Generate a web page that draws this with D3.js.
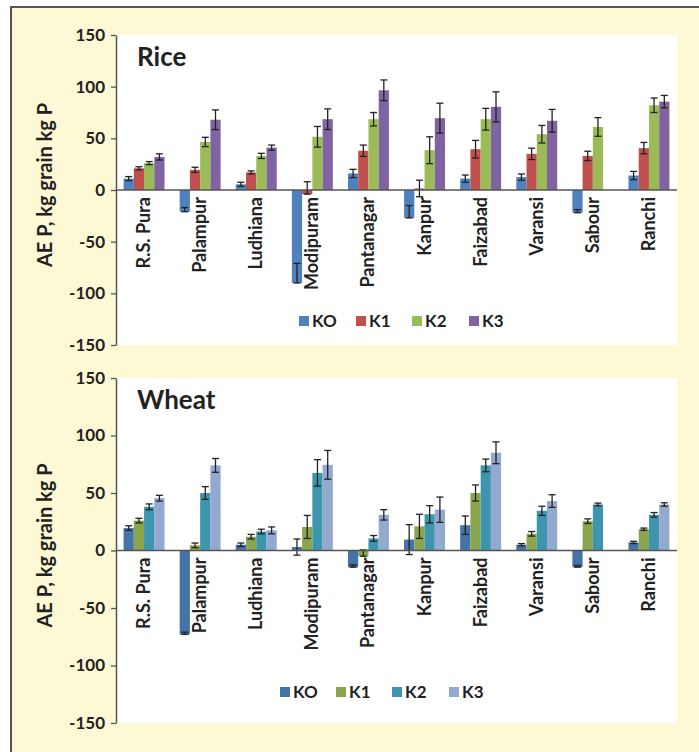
<!DOCTYPE html>
<html>
<head>
<meta charset="utf-8">
<script src="https://cdnjs.cloudflare.com/ajax/libs/d3/7.8.5/d3.min.js"></script>
<style>
  body { margin: 0; background: #fff; }
  svg { display: block; font-family: Lato, "DejaVu Sans", sans-serif; font-weight: bold; }
</style>
</head>
<body>
<div id="chart"></div>
<script>
// categories and series
const sites = ["R.S. Pura", "Palampur", "Ludhiana", "Modipuram", "Pantanagar", "Kanpur", "Faizabad", "Varansi", "Sabour", "Ranchi"];
const series = ["KO", "K1", "K2", "K3"];
const yTicks = [-150, -100, -50, 0, 50, 100, 150];

// Rice
const riceKO = [11, -21, 5.5, -90, 16, -27, 11, 12.5, -22, 14];
const riceK1 = [21, 19.5, 17, -4, 38, 1.5, 39.5, 35, 33, 40.5];
const riceK2 = [26, 46.5, 33, 51.5, 68.5, 38.5, 68.5, 54, 61, 82];
const riceK3 = [32, 68, 41, 68.5, 96.5, 69.5, 80.5, 67, null, 85.5];
const riceKOerr = [2, 4, 2, 19, 4, 12, 3.5, 3, 3, 4];
const riceK1err = [1.5, 2.5, 1.5, 12, 5.5, 8, 8.5, 5.5, 4.5, 5.5];
const riceK2err = [1.5, 4.5, 2.5, 10, 6.5, 13, 10.5, 8.5, 9, 7];
const riceK3err = [3, 9.5, 2.5, 10, 10, 14.5, 14.5, 11, null, 6];

// Wheat
const wheatKO = [19.5, -73, 5, 3, -14.5, 9.5, 22, 5, -14.5, 7];
const wheatK1 = [26, 4.5, 12, 20.5, -5, 21, 50, 14.5, 25.5, 18.5];
const wheatK2 = [38, 50, 16.5, 67.5, 10.5, 31.5, 74, 34.5, 40, 31];
const wheatK3 = [45.5, 74, 17.5, 74.5, 31, 35.5, 85, 43, null, 40];
const wheatKOerr = [2, 2, 1.5, 7, 2, 13, 8, 1, 1.5, 1];
const wheatK1err = [2, 2, 2, 10, 5.5, 10.5, 7, 2, 2, 1];
const wheatK2err = [2.5, 5.5, 2, 11.5, 2.5, 7.5, 5.5, 4, 1.2, 2];
const wheatK3err = [2.5, 6, 3, 12.5, 4.5, 11, 9.5, 5.5, null, 1.5];

const riceColors = ["#4F81BD", "#C0504D", "#9BBB59", "#8064A2"];
const wheatColors = ["#4572A7", "#89A54E", "#3D96AE", "#93A9CF"];

const width = 699, height = 752;
const svg = d3.select("#chart").append("svg")
    .attr("width", width)
    .attr("height", height);

// yellow frame
svg.append("rect")
    .attr("x", 11).attr("y", 7)
    .attr("width", width + 10).attr("height", height + 10)
    .attr("fill", "#FEF9D5")
    .attr("stroke", "#555")
    .attr("stroke-width", 2);

function panel(opt) {
  const left = 116, right = 677;
  const y = d3.scaleLinear().domain([-150, 150]).range([opt.bottom, opt.top]);
  const x0 = d3.scaleBand().domain(sites).range([left, right])
      .paddingInner(0.27).paddingOuter(0.135);
  const x1 = d3.scaleBand().domain(series).range([0, x0.bandwidth()]);

  const rows = [];
  sites.forEach((s, i) => {
    series.forEach((k, j) => {
      const v = opt.values[j][i];
      if (v == null) return;
      rows.push({site: s, key: k, value: v, err: opt.errs[j][i], color: opt.colors[j]});
    });
  });

  const g = svg.append("g");

  // white plot area
  g.append("rect")
      .attr("x", left).attr("y", opt.top)
      .attr("width", right - left).attr("height", opt.bottom - opt.top)
      .attr("fill", "#fff");

  g.append("text")
      .attr("x", 137).attr("y", opt.top + 31)
      .attr("font-size", 26)
      .attr("fill", "#222")
      .text(opt.title);

  g.append("g")
    .selectAll("rect")
    .data(rows)
    .join("rect")
      .attr("x", d => x0(d.site) + x1(d.key))
      .attr("y", d => y(Math.max(0, d.value)))
      .attr("width", x1.bandwidth())
      .attr("height", d => Math.abs(y(d.value) - y(0)))
      .attr("fill", d => d.color);

  // error bars (negative bars: drawn toward zero)
  const lo = d => d.value < 0 ? d.value : d.value - d.err;
  const hi = d => d.value + d.err;
  const eb = g.append("g").attr("stroke", "#222").attr("stroke-width", 1.3);
  const cx = d => x0(d.site) + x1(d.key) + x1.bandwidth() / 2;
  eb.selectAll(".v").data(rows).join("line")
      .attr("x1", cx).attr("x2", cx)
      .attr("y1", d => y(lo(d))).attr("y2", d => y(hi(d)));
  eb.selectAll(".t").data(rows).join("line")
      .attr("x1", d => cx(d) - 3.5).attr("x2", d => cx(d) + 3.5)
      .attr("y1", d => y(hi(d))).attr("y2", d => y(hi(d)));
  eb.selectAll(".b").data(rows).join("line")
      .attr("x1", d => cx(d) - 3.5).attr("x2", d => cx(d) + 3.5)
      .attr("y1", d => y(lo(d))).attr("y2", d => y(lo(d)));

  // zero line
  g.append("line")
      .attr("x1", left).attr("x2", right)
      .attr("y1", y(0)).attr("y2", y(0))
      .attr("stroke", "#555").attr("stroke-width", 1.5);

  // category labels
  g.append("g")
    .selectAll("text")
    .data(sites)
    .join("text")
      .attr("transform", d => `translate(${x0(d) + x0.bandwidth() / 2 + 6},${y(0) + 7}) rotate(-90)`)
      .attr("text-anchor", "end")
      .attr("font-size", 18)
      .attr("fill", "#222")
      .text(d => d);

  // y axis
  g.append("g")
      .attr("transform", `translate(${left},0)`)
      .call(d3.axisLeft(y).tickValues(yTicks).tickFormat(d => String(d))
          .tickSize(5).tickSizeOuter(0).tickPadding(6))
      .call(a => a.select(".domain").attr("stroke", "#555").attr("stroke-width", 1.5))
      .call(a => a.selectAll(".tick line").attr("stroke", "#555").attr("stroke-width", 1.3))
      .call(a => a.selectAll(".tick text")
          .attr("font-family", "Lato, 'DejaVu Sans', sans-serif")
          .attr("font-weight", "bold")
          .attr("font-size", 17)
          .attr("fill", "#222"));

  // y title
  g.append("text")
      .attr("transform", `translate(52,${(opt.top + opt.bottom) / 2 - 5}) rotate(-90)`)
      .attr("text-anchor", "middle")
      .attr("font-size", 20)
      .attr("fill", "#222")
      .text("AE P, kg grain kg P");

  // legend
  const lg = g.append("g");
  series.forEach((k, j) => {
    lg.append("rect")
        .attr("x", opt.legendX[j]).attr("y", opt.legendY - 5)
        .attr("width", 10).attr("height", 10)
        .attr("fill", opt.colors[j]);
    lg.append("text")
        .attr("x", opt.legendX[j] + 13).attr("y", opt.legendY + 6)
        .attr("font-size", 17)
        .attr("fill", "#222")
        .text(k);
  });
}

panel({
  title: "Rice", top: 35, bottom: 345,
  values: [riceKO, riceK1, riceK2, riceK3],
  errs: [riceKOerr, riceK1err, riceK2err, riceK3err],
  colors: riceColors,
  legendX: [299, 356, 412, 469], legendY: 321
});

panel({
  title: "Wheat", top: 378, bottom: 723,
  values: [wheatKO, wheatK1, wheatK2, wheatK3],
  errs: [wheatKOerr, wheatK1err, wheatK2err, wheatK3err],
  colors: wheatColors,
  legendX: [280, 336, 392, 449], legendY: 692
});
</script>
</body>
</html>
